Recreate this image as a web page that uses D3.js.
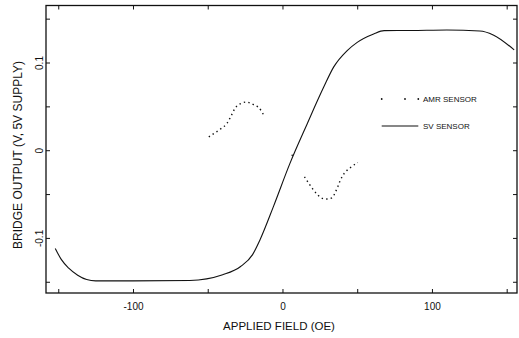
<html>
<head><meta charset="utf-8"></head>
<script src='https://d3js.org/d3.v7.min.js'></script>
<style>
body {margin: 0; background: white;}
text {font-family: "Liberation Sans", Arial, sans-serif; fill: #111;}
</style>
<body>
<svg id="chart" width=519 height=338></svg>
<script>
// SV sensor (solid curve)
const svField = [-152, -148, -143, -137, -131, -125, -100, -62, -40, -28, -20, -15, -6, 5, 16.5, 27.6, 34.3, 43.3, 50, 61, 68, 86, 110, 132, 141, 155];
const svOutput = [-0.112, -0.1245, -0.1345, -0.1425, -0.1475, -0.149, -0.149, -0.1485, -0.142, -0.1326, -0.119, -0.102, -0.064, -0.015, 0.030, 0.072, 0.095, 0.1136, 0.123, 0.1326, 0.1364, 0.1365, 0.137, 0.136, 0.1315, 0.1144];

// AMR sensor (dotted curve), null = pen lifted
const amrField = [-49.3, -44.3, -41, -37, -35.3, -33.6, -31.9, -27, -24.3, -20.7, -18.5, -16.3, -11.8, null, 6.5, null, 14.7, 17.6, 23.2, 26.6, 29.9, 33.2, 35.5, 37, 38.3, 39.9, 46, 50.4];
const amrOutput = [0.0151, 0.0208, 0.0247, 0.031, 0.036, 0.0417, 0.0474, 0.0538, 0.0549, 0.0531, 0.0511, 0.0492, 0.0378, null, -0.0057, null, -0.0303, -0.0378, -0.0503, -0.0549, -0.0557, -0.0542, -0.0474, -0.0417, -0.036, -0.0303, -0.019, -0.014];

const xTicks = [-150, -100, -50, 0, 50, 100, 150];
const xLabels = [-100, 0, 100];
const xLabelText = ["-100", "0", "100"];
const yTicks = [-0.15, -0.1, -0.05, 0, 0.05, 0.1, 0.15];
const yLabels = [-0.1, 0, 0.1];
const yLabelText = ["-0.1", "0", "0.1"];
const seriesNames = ["AMR SENSOR", "SV SENSOR"];

const pLeft = 46, pRight = 517, pTop = 5.5, pBottom = 293;
const svg = d3.select("#chart");

const x = d3.scaleLinear().domain([-158.2, 156.9]).range([pLeft, pRight]);
const y = d3.scaleLinear().domain([-0.1628, 0.165]).range([pBottom, pTop]);

// frame
svg.append("rect")
  .attr("x", pLeft).attr("y", pTop)
  .attr("width", pRight - pLeft).attr("height", pBottom - pTop)
  .attr("fill", "none").attr("stroke", "#111").attr("stroke-width", 1.3);

// inward ticks on all four sides
function ticksOnly(g) { g.select(".domain").remove(); g.selectAll("text").remove(); g.selectAll("line").attr("stroke", "#111"); }
svg.append("g").attr("transform", "translate(0," + pBottom + ")")
  .call(d3.axisBottom(x).tickValues(xTicks).tickSize(-4)).call(ticksOnly);
svg.append("g").attr("transform", "translate(0," + pTop + ")")
  .call(d3.axisTop(x).tickValues(xTicks).tickSize(-4)).call(ticksOnly);
svg.append("g").attr("transform", "translate(" + pLeft + ",0)")
  .call(d3.axisLeft(y).tickValues(yTicks).tickSize(-4)).call(ticksOnly);
svg.append("g").attr("transform", "translate(" + pRight + ",0)")
  .call(d3.axisRight(y).tickValues(yTicks).tickSize(-4)).call(ticksOnly);

// tick labels
const xl = svg.append("g").attr("transform", "translate(0," + pBottom + ")")
  .call(d3.axisBottom(x).tickValues(xLabels).tickSize(0).tickPadding(10).tickFormat((d, i) => xLabelText[i]));
xl.select(".domain").remove();
xl.selectAll("text").style("font-size", "10px").style("font-family", "Liberation Sans, Arial, sans-serif").attr("fill", "#111");

const yl = svg.append("g").attr("transform", "translate(" + pLeft + ",0)")
  .call(d3.axisLeft(y).tickValues(yLabels).tickSize(0).tickFormat((d, i) => yLabelText[i]));
yl.select(".domain").remove();
yl.selectAll("text")
  .attr("x", null).attr("dy", null)
  .attr("text-anchor", "middle")
  .attr("transform", "translate(-3,0) rotate(-90)")
  .style("font-size", "10px").style("font-family", "Liberation Sans, Arial, sans-serif").attr("fill", "#111");

// axis titles
svg.append("text")
  .attr("x", 279).attr("y", 330)
  .attr("text-anchor", "middle")
  .style("font-size", "11.5px")
  .text("APPLIED FIELD (OE)");
svg.append("text")
  .attr("transform", "translate(22,155) rotate(-90)")
  .attr("text-anchor", "middle")
  .style("font-size", "12px")
  .text("BRIDGE OUTPUT (V, 5V SUPPLY)");

// curves
const sv = svField.map((f, i) => [f, svOutput[i]]);
const amr = amrField.map((f, i) => [f, amrOutput[i]]);

const line = d3.line()
  .defined(d => d[0] !== null)
  .x(d => x(d[0])).y(d => y(d[1]))
  .curve(d3.curveMonotoneX);

svg.append("path").datum(sv)
  .attr("d", line)
  .attr("fill", "none").attr("stroke", "#111").attr("stroke-width", 1.1);

svg.append("path").datum(amr)
  .attr("d", line)
  .attr("fill", "none").attr("stroke", "#111").attr("stroke-width", 1.4)
  .attr("stroke-dasharray", "1.4,3.2");

// isolated AMR point
svg.selectAll(".lone").data(amr.filter((d, i) => d[0] !== null && amr[i - 1] && amr[i - 1][0] === null && amr[i + 1] && amr[i + 1][0] === null))
  .enter().append("circle")
  .attr("cx", d => x(d[0])).attr("cy", d => y(d[1])).attr("r", 0.8).attr("fill", "#111");

// legend
const lg = svg.append("g");
lg.selectAll("circle").data([381.7, 405, 418.3]).enter().append("circle")
  .attr("cx", d => d).attr("cy", 99).attr("r", 0.9).attr("fill", "#111");
lg.append("line").attr("x1", 381.7).attr("x2", 418.3).attr("y1", 126).attr("y2", 126)
  .attr("stroke", "#111").attr("stroke-width", 1.1);
lg.selectAll("text").data(seriesNames).enter().append("text")
  .attr("x", 423).attr("y", (d, i) => 102 + i * 27)
  .style("font-size", "8px")
  .text(d => d);
</script>
</body>
</html>
